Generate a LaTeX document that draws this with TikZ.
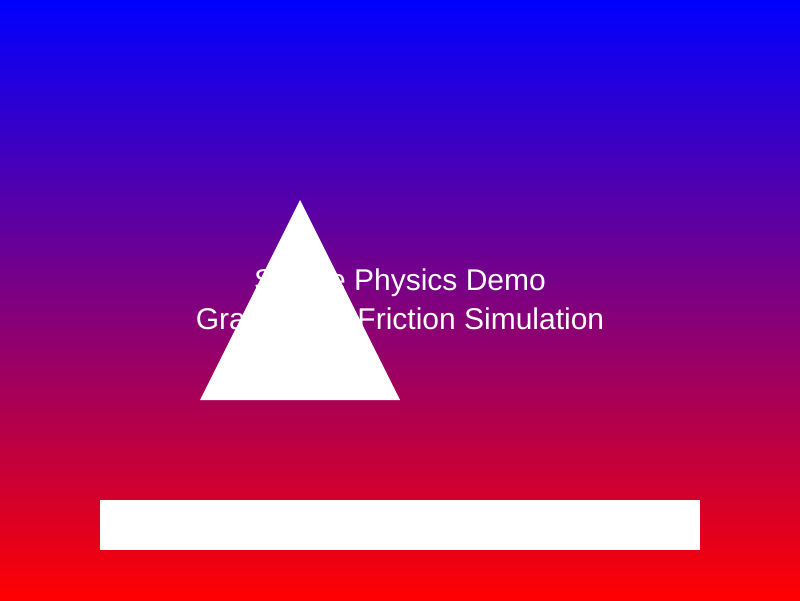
\documentclass[tikz,border=0pt]{standalone}
\usepackage{fontspec}
\setmainfont{Liberation Sans}
\begin{document}
\begin{tikzpicture}[x=1pt,y=-1pt,
  label/.style={text=white,font=\fontsize{30}{36}\selectfont,anchor=base,inner sep=0pt},
  shapefill/.style={fill=white,draw=none}]
\useasboundingbox (0,0) rectangle (800,600);
\shade[top color={rgb,1:red,0;green,0;blue,1}, bottom color={rgb,1:red,1;green,0;blue,0}] (0,0) rectangle (800,600);
\node[label] (t1) at (400,290) {Simple Physics Demo};
\node[label] (t2) at (400,329) {Gravity and Friction Simulation};
\path[shapefill] (300,200) -- (400,400) -- (200,400) -- cycle;
\path[shapefill] (100,500) rectangle (700,550);
\end{tikzpicture}
\end{document}
